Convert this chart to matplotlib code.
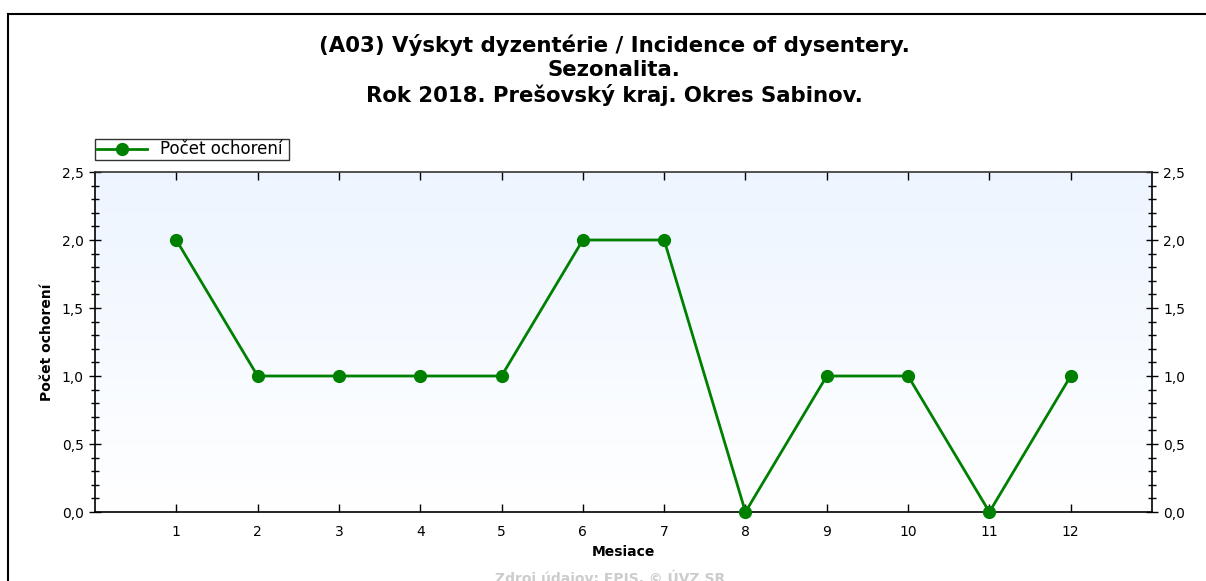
import matplotlib
matplotlib.use('Agg')
import matplotlib.pyplot as plt
import numpy as np
from matplotlib.ticker import MultipleLocator, FuncFormatter
from matplotlib.lines import Line2D

# DejaVu is a bit wider than Arial, which suits the stretched look of the original
plt.rcParams['font.family'] = ['DejaVu Sans']

months = [1, 2, 3, 4, 5, 6, 7, 8, 9, 10, 11, 12]
cases = [2, 1, 1, 1, 1, 2, 2, 0, 1, 1, 0, 1]
title_lines = ['(A03) Výskyt dyzentérie / Incidence of dysentery.',
               'Sezonalita.',
               'Rok 2018. Prešovský kraj. Okres Sabinov.']
series_label = 'Počet ochorení'

W, H = 1206, 581
fig = plt.figure(figsize=(W / 100, H / 100), dpi=100)

# outer frame (top and left edges only visible)
fig.add_artist(Line2D([8 / W, 8 / W], [0, 1 - 14 / H], color='black', lw=1.5))
fig.add_artist(Line2D([8 / W, 1.0], [1 - 14 / H, 1 - 14 / H], color='black', lw=1.5))

for i, t in enumerate(title_lines):
    fig.text(0.5 + 11 / W, 1 - (45 + 25 * i) / H, t, ha='center', va='center',
             fontsize=15.3, fontweight='bold')

ax = fig.add_axes([95 / W, 1 - 512 / H, (1152 - 95) / W, (512 - 172) / H])

# background gradient, light blue at top to white at bottom
grad = np.linspace(0, 1, 256).reshape(-1, 1)
top = np.array([0.93, 0.96, 1.0])
bot = np.array([1.0, 1.0, 1.0])
img = bot + (top - bot) * grad
ax.imshow(img[:, None, :].repeat(2, axis=1), extent=[0, 13, 0, 2.5], origin='lower',
          aspect='auto', zorder=0)

ax.plot(months, cases, color='#008000', lw=2, marker='o', markersize=8.5,
        label=series_label, zorder=3, clip_on=False)

ax.set_xlim(0, 13)
ax.set_ylim(0, 2.5)
ax.set_xticks(months)
ax.yaxis.set_major_locator(MultipleLocator(0.5))
ax.yaxis.set_minor_locator(MultipleLocator(0.1))
fmt = FuncFormatter(lambda v, p: f'{v:.1f}'.replace('.', ','))
ax.yaxis.set_major_formatter(fmt)

ax.tick_params(axis='x', direction='in', top=True, length=6, width=1, labelsize=10, pad=9)
ax.tick_params(axis='y', which='major', direction='inout', right=True, labelright=True,
               length=8, width=1, labelsize=10, pad=4)
ax.tick_params(axis='y', which='minor', direction='inout', right=True, length=6, width=1)

for s in ['left', 'right', 'top', 'bottom']:
    ax.spines[s].set_linewidth(1.2)
ax.spines['top'].set_color('#333333')

ax.set_xlabel('Mesiace', fontsize=10, fontweight='bold', labelpad=5)
ax.set_ylabel(series_label, fontsize=10, fontweight='bold', labelpad=6)

leg = ax.legend(loc='lower left', bbox_to_anchor=(0, 1.035), fontsize=12,
                frameon=True, fancybox=False, borderpad=0.1, handlelength=3.0,
                handletextpad=0.8, edgecolor='black', borderaxespad=0)
leg.get_frame().set_linewidth(1)
# a little extra room on the right of the legend text
leg._legend_box.sep = 0
leg.get_texts()[0].set_text(series_label + ' ')

fig.text(0.5 + 7 / W, 1 - 578 / H, 'Zdroj údajov: EPIS, © ÚVZ SR', ha='center',
         va='center', fontsize=10, fontweight='bold', color='#cccccc')

fig.savefig('out.png', dpi=100)
